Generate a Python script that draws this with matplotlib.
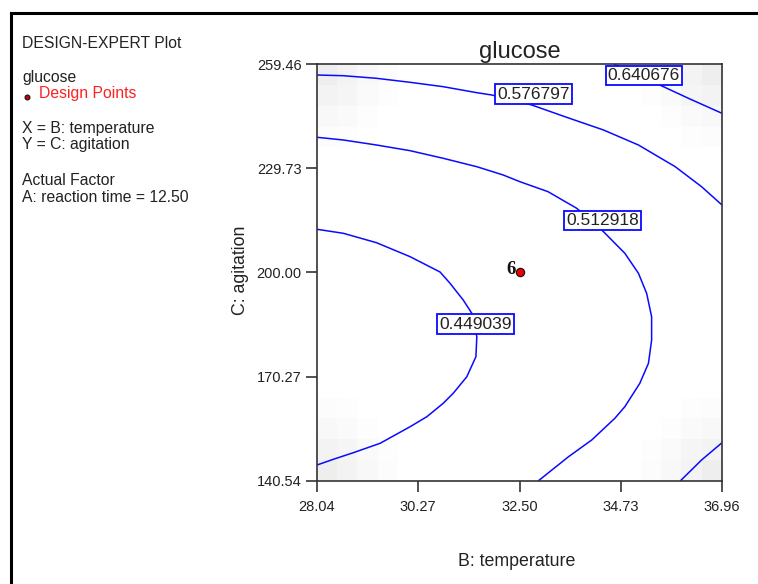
import numpy as np
import matplotlib
matplotlib.use("Agg")
import matplotlib.pyplot as plt
from matplotlib.lines import Line2D

plt.rcParams['font.family'] = ['Liberation Sans', 'DejaVu Sans']

# ---- axis ranges and ticks ----
x_ticks = [28.04, 30.27, 32.50, 34.73, 36.96]
y_ticks = [140.54, 170.27, 200.00, 229.73, 259.46]
x_tick_labels = ["28.04", "30.27", "32.50", "34.73", "36.96"]
y_tick_labels = ["140.54", "170.27", "200.00", "229.73", "259.46"]

# ---- contour lines of predicted glucose (temperature, agitation) ----
c449_x = [28.04, 28.62, 29.35, 30.09, 30.75, 30.97, 31.26, 31.45, 31.56, 31.54,
          31.34, 31.04, 30.82, 30.46, 30.09, 29.43, 28.84, 28.40, 28.04]
c449_y = [212.32, 211.18, 208.50, 204.51, 200.14, 196.92, 192.16, 188.36, 181.69, 175.99,
          170.28, 165.55, 162.70, 158.88, 156.02, 151.29, 148.61, 146.73, 145.10]

c513_x = [28.04, 28.62, 29.35, 30.09, 30.82, 31.56, 32.14, 32.51, 33.13, 33.76, 34.35, 34.82,
          35.12, 35.30, 35.41, 35.41, 35.34, 35.15, 34.82, 34.60, 34.09, 33.58, 32.91]
c513_y = [238.56, 237.79, 236.36, 234.74, 232.57, 230.17, 227.81, 225.89, 223.04, 218.31, 211.64, 205.48,
          199.77, 194.07, 187.39, 180.75, 174.11, 168.40, 161.73, 158.42, 152.23, 147.47, 140.54]

c577_x = [28.04, 28.62, 29.35, 30.09, 30.82, 31.56, 31.89, 32.77, 33.50, 34.35, 35.12, 35.93, 36.51, 36.96]
c577_y = [256.32, 256.12, 255.38, 254.24, 252.99, 251.28, 250.62, 247.77, 244.43, 240.64, 236.36, 230.17, 224.47, 219.25]

c641a_x = [34.58, 35.67, 36.22, 36.96]
c641a_y = [259.46, 252.99, 249.68, 245.40]
c641b_x = [36.04, 36.51, 36.96]
c641b_y = [140.54, 146.53, 151.46]

contour_lines = [(c449_x, c449_y), (c513_x, c513_y), (c577_x, c577_y),
                 (c641a_x, c641a_y), (c641b_x, c641b_y)]

# contour level labels and where they sit
level_labels = ["0.449039", "0.512918", "0.576797", "0.640676"]
level_label_x = [31.54, 34.33, 32.81, 35.24]
level_label_y = [185.26, 214.89, 250.85, 256.18]

# design point
design_x = [32.50]
design_y = [200.00]
design_count = ["6"]

# standard-error shading, lightness of the corner cells (outer corner first)
corner_shade = np.array([
    [0.930, 0.950, 0.970, 0.988, 1.0],
    [0.950, 0.960, 0.978, 0.992, 1.0],
    [0.970, 0.978, 0.992, 1.000, 1.0],
    [0.988, 0.992, 1.000, 1.000, 1.0],
    [1.000, 1.000, 1.000, 1.000, 1.0],
])

W, H = 758, 584
fig = plt.figure(figsize=(W / 100, H / 100), dpi=100)

def fx(px):
    return px / W

def fy(py):
    return 1 - py / H

ax = fig.add_axes([fx(317), fy(481), (722 - 317) / W, (481 - 64) / H])
ax.set_xlim(x_ticks[0], x_ticks[-1])
ax.set_ylim(y_ticks[0], y_ticks[-1])

# background shading grid
n = 20
shade = np.ones((n, n))
k = corner_shade.shape[0]
shade[:k, :k] = np.minimum(shade[:k, :k], corner_shade)
shade[:k, -k:] = np.minimum(shade[:k, -k:], corner_shade[:, ::-1])
shade[-k:, :k] = np.minimum(shade[-k:, :k], corner_shade[::-1, :])
shade[-k:, -k:] = np.minimum(shade[-k:, -k:], corner_shade[::-1, ::-1])
ax.imshow(shade, cmap='gray', vmin=0, vmax=1, interpolation='nearest',
          extent=[x_ticks[0], x_ticks[-1], y_ticks[0], y_ticks[-1]],
          aspect='auto', origin='upper', zorder=0)

for cx, cy in contour_lines:
    ax.plot(cx, cy, color='#0a0aff', lw=1.1, zorder=2, solid_capstyle='butt')

for lab, lx, ly in zip(level_labels, level_label_x, level_label_y):
    ax.text(lx, ly, lab, ha='center', va='center', fontsize=12.5, color='#222222',
            zorder=4,
            bbox=dict(boxstyle='square,pad=0.13', facecolor='white',
                      edgecolor='#0a0aff', linewidth=1.3))

ax.plot(design_x, design_y, 'o', markersize=6, markerfacecolor='#ee0000',
        markeredgecolor='#111111', markeredgewidth=0.8, zorder=5)
for dx, dy, c in zip(design_x, design_y, design_count):
    ax.annotate(c, (dx, dy), xytext=(-3, -1), textcoords='offset points',
                ha='right', va='baseline', fontsize=13.5, fontweight='bold',
                family=['Liberation Serif', 'DejaVu Serif'],
                color='#111111', zorder=5)

for s in ax.spines.values():
    s.set_color('#333333')
    s.set_linewidth(1.2)

ax.set_xticks(x_ticks)
ax.set_xticklabels(x_tick_labels)
ax.set_yticks(y_ticks)
ax.set_yticklabels(y_tick_labels)
ax.tick_params(axis='both', direction='out', length=8, width=1.2,
               color='#333333', labelsize=10.5, labelcolor='#222222')
ax.tick_params(axis='x', pad=6)
ax.tick_params(axis='y', pad=3)

ax.set_title("glucose", fontsize=17, color='#222222', pad=4)
fig.text(fx(517), fy(562), "B: temperature", ha='center', va='center',
         fontsize=12.8, color='#222222')
fig.text(fx(240), fy(270), "C: agitation", ha='center', va='center',
         rotation=90, fontsize=12.8, color='#222222')

# information panel on the left
info = [("DESIGN-EXPERT Plot", 47.7, '#222222', 22),
        ("glucose", 81.7, '#222222', 22),
        ("Design Points", 98.3, '#ff2020', 39),
        ("X = B: temperature", 132.7, '#222222', 22),
        ("Y = C: agitation", 149.3, '#222222', 22),
        ("Actual Factor", 185.0, '#222222', 22),
        ("A: reaction time = 12.50", 201.7, '#222222', 22)]
for txt, yb, col, xl in info:
    fig.text(fx(xl), fy(yb), txt, ha='left', va='baseline', fontsize=11.3, color=col)
fig.add_artist(Line2D([fx(27)], [fy(96.5)], marker='o', markersize=3.5,
                      markerfacecolor='#cc0000', markeredgecolor='#111111',
                      markeredgewidth=0.8, linestyle='none'))

# outer frame
fig.add_artist(Line2D([fx(10.5), fx(10.5)], [0, fy(12.5)], color='black', lw=2.2))
fig.add_artist(Line2D([fx(10.5), 1], [fy(12.5), fy(12.5)], color='black', lw=2.2))

fig.savefig("out.png", dpi=100)
